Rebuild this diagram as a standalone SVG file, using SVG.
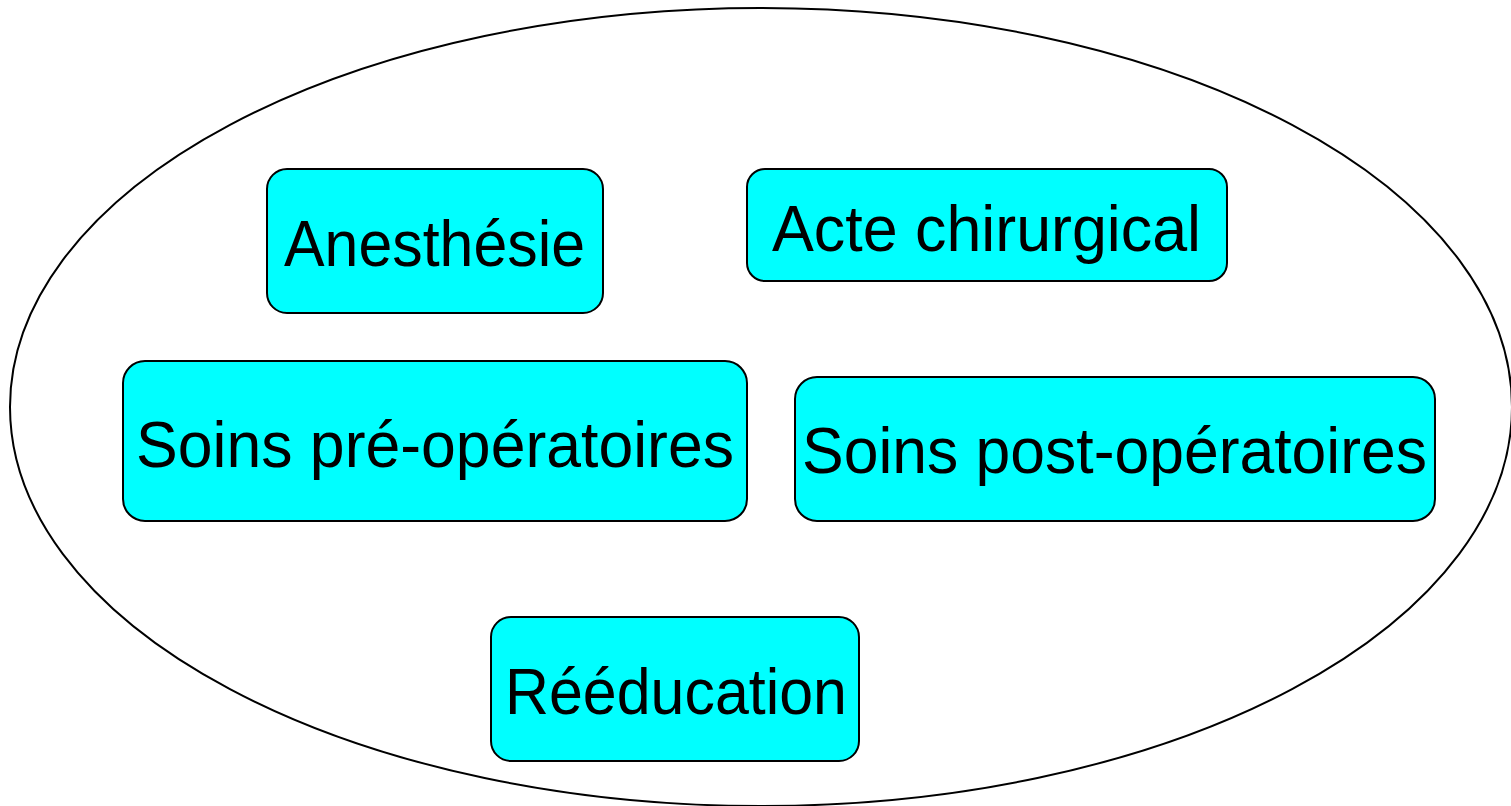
<svg xmlns="http://www.w3.org/2000/svg" width="1511" height="806" viewBox="0 0 1511 806">
  <style>
    .box { fill: #00ffff; stroke: #000; stroke-width: 2; }
    .lbl { font-family: "Liberation Sans", Arial, sans-serif; font-size: 65px; fill: #000; }
  </style>
  <rect width="1511" height="806" fill="#fff"/>
  <!-- enclosing ellipse -->
  <g id="enclosure">
    <ellipse cx="761" cy="407" rx="751" ry="399" fill="none" stroke="#000" stroke-width="2"/>
  </g>
  <g id="connectors"></g>
  <g id="anesthesie">
    <rect class="box" x="267" y="169" width="336" height="144" rx="20"/>
    <text class="lbl" x="284" y="266" textLength="301" lengthAdjust="spacingAndGlyphs">Anesthésie</text>
  </g>
  <g id="acte-chirurgical">
    <rect class="box" x="747" y="169" width="480" height="112" rx="18"/>
    <text class="lbl" x="772" y="251" textLength="429" lengthAdjust="spacingAndGlyphs">Acte chirurgical</text>
  </g>
  <g id="soins-pre">
    <rect class="box" x="123" y="361" width="624" height="160" rx="22"/>
    <text class="lbl" x="136" y="467" textLength="598" lengthAdjust="spacingAndGlyphs">Soins pré-opératoires</text>
  </g>
  <g id="soins-post">
    <rect class="box" x="795" y="377" width="640" height="144" rx="22"/>
    <text class="lbl" x="802" y="473" textLength="625" lengthAdjust="spacingAndGlyphs">Soins post-opératoires</text>
  </g>
  <g id="reeducation">
    <rect class="box" x="491" y="617" width="368" height="144" rx="20"/>
    <text class="lbl" x="505" y="714" textLength="342" lengthAdjust="spacingAndGlyphs">Rééducation</text>
  </g>
</svg>
